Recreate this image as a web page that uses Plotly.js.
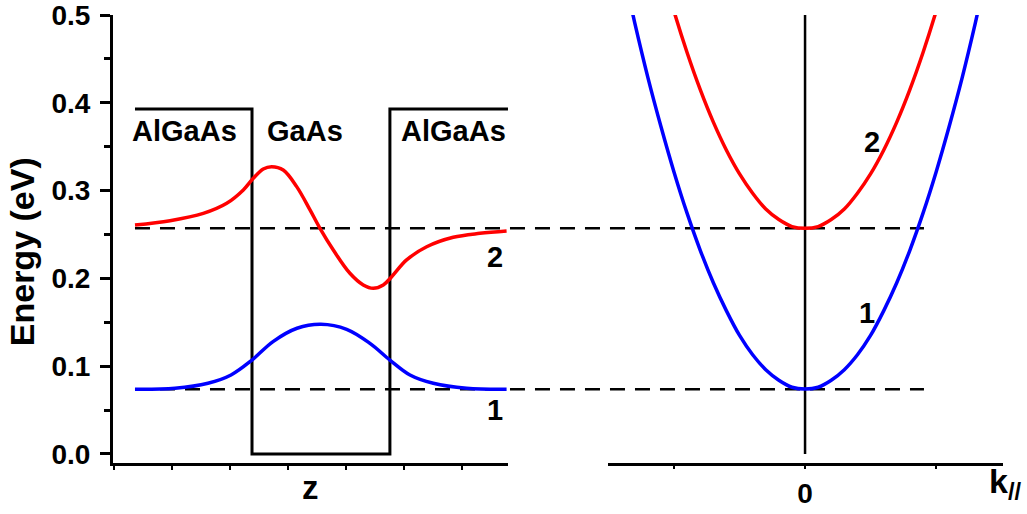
<!DOCTYPE html>
<html>
<head>
<meta charset="utf-8">
<script src="https://cdn.plot.ly/plotly-3.0.1.min.js"></script>
<style>html,body{margin:0;padding:0;background:#fff;}#chart{width:1027px;height:514px;}</style>
</head>
<body>
<div id="chart"></div>
<script>
// Quantum well profile (z in nm, energy in eV)
const zWell = [1.81, 11.9, 11.9, 23.79, 23.79, 33.97];
const eWell = [0.393, 0.393, 0.0, 0.0, 0.393, 0.393];

// Wavefunction 1 (offset at E1)
const zPsi1 = [1.81, 5.26, 8.10, 10.09, 11.90, 13.71, 15.78, 17.84, 20.06, 22.07, 23.79, 25.52, 27.53, 30.40, 33.85];
const ePsi1 = [0.0737, 0.0748, 0.0805, 0.090, 0.107, 0.128, 0.1432, 0.1477, 0.142, 0.126, 0.107, 0.090, 0.0805, 0.0748, 0.0737];

// Wavefunction 2 (offset at E2)
const zPsi2 = [1.81, 4.83, 7.70, 9.72, 11.15, 12.01, 12.87, 13.59, 14.59, 15.75, 16.90, 17.76, 18.91, 20.34, 21.49, 22.35, 23.22, 23.94, 25.23, 26.96, 29.25, 31.55, 33.85];
const ePsi2 = [0.2608, 0.2657, 0.274, 0.2855, 0.3007, 0.314, 0.3246, 0.3272, 0.3235, 0.3045, 0.278, 0.257, 0.2323, 0.2058, 0.1925, 0.1887, 0.1925, 0.2019, 0.221, 0.236, 0.2468, 0.2513, 0.254];

// In-plane dispersion
const kPar = [-1.5,-1.4,-1.3,-1.2,-1.1,-1.0,-0.9,-0.8,-0.7,-0.6,-0.5,-0.4,-0.3,-0.2,-0.1,0,0.1,0.2,0.3,0.4,0.5,0.6,0.7,0.8,0.9,1.0,1.1,1.2,1.3,1.4,1.5];
const eBand1 = [0.630,0.558,0.491,0.429,0.373,0.321,0.274,0.232,0.195,0.163,0.135,0.113,0.096,0.084,0.076,0.074,0.076,0.084,0.096,0.113,0.135,0.163,0.195,0.232,0.274,0.321,0.373,0.429,0.491,0.558,0.630];
const eBand2 = [0.813,0.741,0.674,0.613,0.556,0.504,0.457,0.415,0.378,0.346,0.319,0.297,0.279,0.267,0.259,0.257,0.259,0.267,0.279,0.297,0.319,0.346,0.378,0.415,0.457,0.504,0.556,0.613,0.674,0.741,0.813];

// Subband levels
const levels = [0.0737, 0.257];
const levelNames = ['1', '2'];

// Axis ticks
const yTickVals = [0, 0.1, 0.2, 0.3, 0.4, 0.5];
const yTickText = ['0.0', '0.1', '0.2', '0.3', '0.4', '0.5'];
const kTickVals = [0];
const kTickText = ['0'];
const kMinorTickVals = [-1, 1];
const zTickVals = [0, 5, 10, 15, 20, 25, 30];

// Region labels
const regionNames = ['AlGaAs', 'GaAs', 'AlGaAs'];
const regionZ = [6.12, 16.47, 29.27];
const regionE = [0.368, 0.368, 0.368];

const FONT = 'Liberation Sans, Arial, sans-serif';

const traces = [
  {x: zWell, y: eWell, xaxis: 'x', yaxis: 'y', mode: 'lines', line: {color: '#000', width: 3}, hoverinfo: 'skip'},
  {x: zPsi1, y: ePsi1, xaxis: 'x', yaxis: 'y', mode: 'lines', line: {color: '#0000ff', width: 3.5, shape: 'spline', smoothing: 1}},
  {x: zPsi2, y: ePsi2, xaxis: 'x', yaxis: 'y', mode: 'lines', line: {color: '#ff0000', width: 3.5, shape: 'spline', smoothing: 1}},
  {x: [0, 0], y: [0, 0.5], xaxis: 'x2', yaxis: 'y', mode: 'lines', line: {color: '#000', width: 2.5}},
  {x: kPar, y: eBand1, xaxis: 'x2', yaxis: 'y', mode: 'lines', line: {color: '#0000ff', width: 3.5, shape: 'spline', smoothing: 1}},
  {x: kPar, y: eBand2, xaxis: 'x2', yaxis: 'y', mode: 'lines', line: {color: '#ff0000', width: 3.5, shape: 'spline', smoothing: 1}}
];

const shapes = levels.map(e => ({
  type: 'line', xref: 'paper', yref: 'y', x0: 0.0247, x1: 0.9112, y0: e, y1: e,
  line: {color: '#000', width: 2.5, dash: '15px,10px'}, layer: 'below'
}));

const annotations = [];
regionNames.forEach((t, i) => annotations.push({
  text: t, x: regionZ[i], y: regionE[i], xref: 'x', yref: 'y', showarrow: false,
  font: {family: FONT, size: 29, weight: 'bold', color: '#000'}
}));
// level labels, left panel
annotations.push({text: levelNames[1], x: 32.84, y: 0.2244, xref: 'x', yref: 'y', showarrow: false, font: {family: FONT, size: 29, weight: 'bold', color: '#000'}});
annotations.push({text: levelNames[0], x: 32.84, y: 0.0501, xref: 'x', yref: 'y', showarrow: false, font: {family: FONT, size: 29, weight: 'bold', color: '#000'}});
// level labels, right panel
annotations.push({text: levelNames[1], x: 0.511, y: 0.355, xref: 'x2', yref: 'y', showarrow: false, font: {family: FONT, size: 29, weight: 'bold', color: '#000'}});
annotations.push({text: levelNames[0], x: 0.473, y: 0.1606, xref: 'x2', yref: 'y', showarrow: false, font: {family: FONT, size: 29, weight: 'bold', color: '#000'}});
// axis titles
annotations.push({text: 'Energy (eV)', x: -0.102, y: 0.471, xref: 'paper', yref: 'paper', textangle: -90, showarrow: false, xanchor: 'center', yanchor: 'middle', font: {family: FONT, size: 34, weight: 'bold', color: '#000'}});
annotations.push({text: 'z', x: 16.9, y: -0.054, xref: 'x', yref: 'paper', showarrow: false, xanchor: 'center', yanchor: 'middle', font: {family: FONT, size: 33, weight: 'bold', color: '#000'}});
annotations.push({text: 'k<sub>//</sub>', x: 0.982, y: -0.045, xref: 'paper', yref: 'paper', showarrow: false, xanchor: 'left', yanchor: 'middle', font: {family: FONT, size: 34, weight: 'bold', color: '#000'}});

const layout = {
  width: 1027, height: 514,
  margin: {l: 113, r: 24, t: 15, b: 51},
  paper_bgcolor: '#fff', plot_bgcolor: '#fff',
  showlegend: false,
  xaxis: {
    domain: [0, 0.4438], range: [-0.086, 33.97], anchor: 'y',
    showgrid: false, zeroline: false, showline: true, linecolor: '#000', linewidth: 3,
    tickvals: zTickVals, showticklabels: false, ticks: 'outside', ticklen: 4, tickwidth: 2, tickcolor: '#000'
  },
  xaxis2: {
    domain: [0.5562, 1], range: [-1.504, 1.511], anchor: 'y',
    showgrid: false, zeroline: false, showline: true, linecolor: '#000', linewidth: 3,
    tickvals: kTickVals, ticktext: kTickText, ticks: 'outside', ticklen: 3, tickwidth: 2, tickcolor: '#000',
    minor: {tickvals: kMinorTickVals, ticks: 'outside', ticklen: 3, tickwidth: 2, tickcolor: '#000'},
    ticklabelstandoff: 0,
    tickfont: {family: FONT, size: 28, weight: 'bold', color: '#000'}
  },
  yaxis: {
    domain: [0, 1], range: [-0.0103, 0.5],
    showgrid: false, zeroline: false, showline: true, linecolor: '#000', linewidth: 3,
    tickvals: yTickVals, ticktext: yTickText, ticks: 'outside', ticklen: 10, tickwidth: 3, tickcolor: '#000',
    ticklabelstandoff: 4, ticklabeloverflow: 'allow',
    minor: {dtick: 0.05, ticks: 'outside', ticklen: 6, tickwidth: 3, tickcolor: '#000'},
    tickfont: {family: FONT, size: 28, weight: 'bold', color: '#000'}
  },
  shapes: shapes,
  annotations: annotations
};

Plotly.newPlot('chart', traces, layout, {displayModeBar: false, staticPlot: true});
</script>
</body>
</html>
